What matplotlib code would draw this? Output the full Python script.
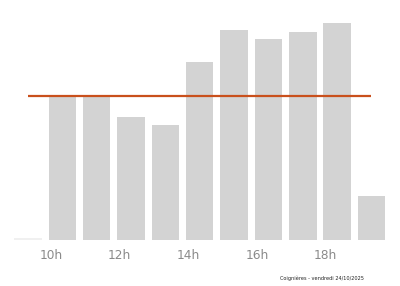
import matplotlib
matplotlib.use("Agg")
import matplotlib.pyplot as plt

hours = [9, 10, 11, 12, 13, 14, 15, 16, 17, 18, 19]
values = [2.5, 143, 145, 123, 115, 178, 210, 201, 208, 217, 44]
reference = 144
tick_hours = [10, 12, 14, 16, 18]
tick_labels = ["10h", "12h", "14h", "16h", "18h"]
footer = "Coignières - vendredi 24/10/2025"

fig = plt.figure(figsize=(4.0, 2.86), dpi=100)
W, H = 400, 286
xmin, xmax = 8.4, 19.6
scale = 34.35
left_px = 28 - (9 - xmin) * scale
ax = fig.add_axes([left_px / W, (H - 240) / H, (xmax - xmin) * scale / W, 225 / H])

colors = ["#f0f0f0" if h == hours[0] else "#d3d3d3" for h in hours]
ax.bar(hours, values, width=0.8, color=colors, zorder=1)
ax.plot([hours[0], hours[-1]], [reference, reference], color="#c9501c", lw=1.6, zorder=2,
        solid_capstyle="butt")

ax.set_xlim(xmin, xmax)
ax.set_ylim(0, 225)
ax.set_xticks([h - 0.335 for h in tick_hours])
ax.set_xticklabels(tick_labels, color="#8a8a8a", fontsize=8.7)
ax.tick_params(axis="x", length=0, pad=6.5)
ax.set_yticks([])
for s in ax.spines.values():
    s.set_visible(False)

fig.text(322 / W, 1 - 278 / H, footer, fontsize=3.6, ha="center", va="center", color="#222222")

fig.savefig("out.png", dpi=100)
